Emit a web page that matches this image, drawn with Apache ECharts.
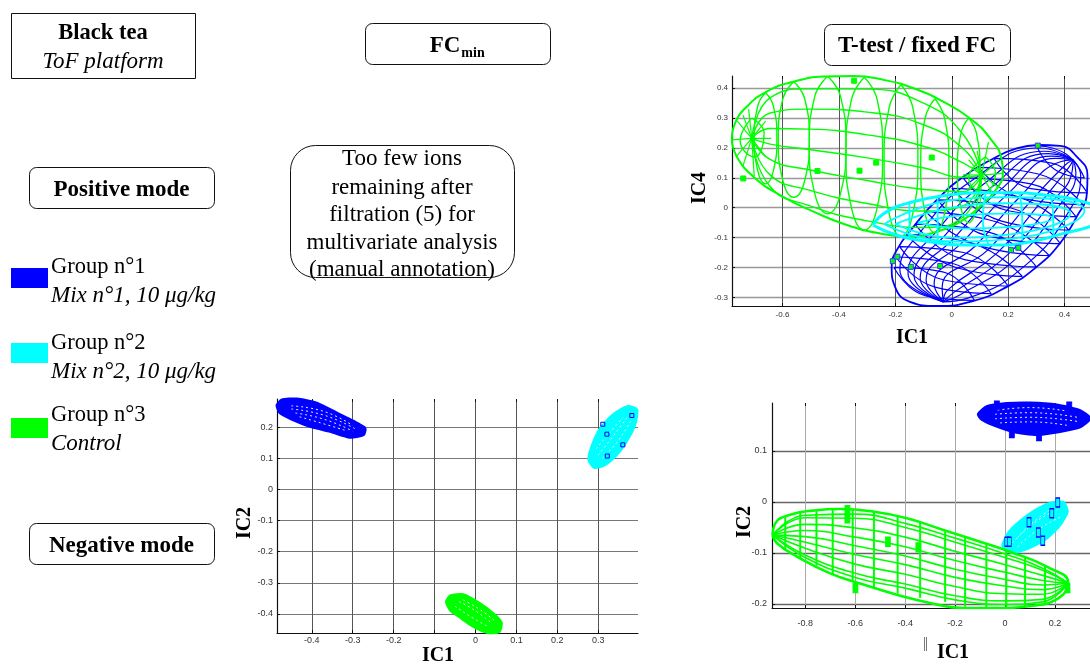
<!DOCTYPE html>
<html>
<head>
<meta charset="utf-8">
<style>
  html, body { margin: 0; padding: 0; background: #fff; }
  #chart { width: 1090px; height: 664px; }
</style>
<script src="https://cdn.jsdelivr.net/npm/echarts@6/dist/echarts.min.js"></script>
</head>
<body>
<div id="chart"></div>
<script>
const BLUE = "#0000ff";
const CYAN = "#00ffff";
const GREEN = "#00ff00";

// Tick values of the three panels
const ticksTopX = [-0.6, -0.4, -0.2, 0, 0.2, 0.4];
const ticksTopY = [-0.3, -0.2, -0.1, 0, 0.1, 0.2, 0.3, 0.4];
const ticksRightX = [-0.8, -0.6, -0.4, -0.2, 0, 0.2];
const ticksRightY = [-0.2, -0.1, 0, 0.1];
const ticksLeftX = [-0.4, -0.3, -0.2, -0.1, 0, 0.1, 0.2, 0.3];
const labelsLeftX = [-0.4, -0.3, -0.2, 0, 0.1, 0.2, 0.3]; // the -0.1 label is hidden by the IC1 title in the source
const ticksLeftY = [-0.4, -0.3, -0.2, -0.1, 0, 0.1, 0.2];

// Positive mode, T-test panel (IC1 / IC4)
const topGreenOutline = [[-0.78,0.227],[-0.768,0.283],[-0.727,0.338],[-0.656,0.389],[-0.561,0.422],[-0.455,0.439],[-0.349,0.441],[-0.242,0.428],[-0.136,0.4],[-0.03,0.355],[0.065,0.299],[0.136,0.232],[0.177,0.16],[0.181,0.115],[0.16,0.065],[0.1,0.003],[0.03,-0.047],[-0.053,-0.08],[-0.148,-0.097],[-0.254,-0.086],[-0.372,-0.058],[-0.49,-0.013],[-0.609,0.042],[-0.703,0.104],[-0.762,0.171],[-0.78,0.227]];
const topGreenMeridians = [
  [[-0.709,0.232],[-0.644,0.368],[-0.505,0.398],[-0.3,0.397],[-0.098,0.349],[0.04,0.246],[0.106,0.109]],
  [[-0.709,0.232],[-0.644,0.317],[-0.505,0.33],[-0.3,0.32],[-0.098,0.277],[0.04,0.198],[0.106,0.109]],
  [[-0.709,0.232],[-0.644,0.265],[-0.505,0.263],[-0.3,0.244],[-0.098,0.205],[0.04,0.15],[0.106,0.109]],
  [[-0.709,0.232],[-0.644,0.213],[-0.505,0.195],[-0.3,0.167],[-0.098,0.133],[0.04,0.102],[0.106,0.109]],
  [[-0.709,0.232],[-0.644,0.162],[-0.505,0.127],[-0.3,0.091],[-0.098,0.061],[0.04,0.054],[0.106,0.109]],
  [[-0.709,0.232],[-0.644,0.11],[-0.505,0.059],[-0.3,0.014],[-0.098,-0.011],[0.04,0.006],[0.106,0.109]],
  [[-0.709,0.232],[-0.644,0.071],[-0.505,0.007],[-0.3,-0.044],[-0.098,-0.066],[0.04,-0.031],[0.106,0.109]],
];
const topGreenRings = [
  [[-0.66,0.385],[-0.632,0.339],[-0.62,0.232],[-0.632,0.125],[-0.66,0.08],[-0.688,0.125],[-0.7,0.232],[-0.688,0.339],[-0.66,0.385]],
  [[-0.56,0.422],[-0.521,0.364],[-0.505,0.228],[-0.521,0.092],[-0.56,0.035],[-0.599,0.092],[-0.615,0.228],[-0.599,0.364],[-0.56,0.422]],
  [[-0.44,0.44],[-0.394,0.371],[-0.375,0.21],[-0.394,0.049],[-0.44,-0.02],[-0.486,0.049],[-0.505,0.21],[-0.486,0.371],[-0.44,0.44]],
  [[-0.31,0.437],[-0.264,0.36],[-0.245,0.181],[-0.264,0.002],[-0.31,-0.075],[-0.356,0.002],[-0.375,0.181],[-0.356,0.36],[-0.31,0.437]],
  [[-0.18,0.412],[-0.138,0.335],[-0.12,0.158],[-0.138,-0.019],[-0.18,-0.095],[-0.222,-0.019],[-0.24,0.158],[-0.222,0.335],[-0.18,0.412]],
  [[-0.06,0.365],[-0.025,0.298],[-0.01,0.141],[-0.025,-0.016],[-0.06,-0.083],[-0.095,-0.016],[-0.11,0.141],[-0.095,0.298],[-0.06,0.365]],
  [[0.06,0.3],[0.088,0.247],[0.1,0.125],[0.088,0.003],[0.06,-0.05],[0.032,0.003],[0.02,0.125],[0.032,0.247],[0.06,0.3]],
  [[-0.709,0.3],[-0.665,0.25],[-0.7,0.17],[-0.75,0.225],[-0.709,0.3]],
  [[0.12,0.17],[0.155,0.115],[0.11,0.05],[0.06,0.1],[0.12,0.17]],
];
const topGreenSpokes = [
  [[-0.709,0.232],[-0.78,0.227]], [[-0.709,0.232],[-0.76,0.29]], [[-0.709,0.232],[-0.72,0.33]],
  [[-0.709,0.232],[-0.765,0.17]], [[-0.709,0.232],[-0.7,0.105]], [[-0.709,0.232],[-0.64,0.232]],
  [[-0.709,0.232],[-0.66,0.29]], [[-0.709,0.232],[-0.66,0.17]], [[-0.709,0.232],[-0.74,0.31]], [[-0.709,0.232],[-0.74,0.14]],
  [[0.106,0.109],[0.18,0.115]], [[0.106,0.109],[0.17,0.16]], [[0.106,0.109],[0.13,0.22]],
  [[0.106,0.109],[0.17,0.065]], [[0.106,0.109],[0.1,0.005]], [[0.106,0.109],[0.04,0.11]],
  [[0.106,0.109],[0.06,0.16]], [[0.106,0.109],[0.055,0.06]], [[0.106,0.109],[0.15,0.04]], [[0.106,0.109],[0.09,0.19]],
];
const topBlueOutline = [[0.307,0.21],[0.384,0.207],[0.443,0.171],[0.481,0.109],[0.479,0.048],[0.443,-0.03],[0.384,-0.119],[0.301,-0.198],[0.195,-0.265],[0.077,-0.312],[-0.053,-0.329],[-0.148,-0.315],[-0.201,-0.265],[-0.213,-0.198],[-0.195,-0.142],[-0.136,-0.064],[-0.053,0.026],[0.041,0.104],[0.148,0.165],[0.23,0.199],[0.307,0.21]];
const topBlueMeridians = [
  [[-0.03,-0.315],[-0.184,-0.208],[-0.098,-0.066],[0.07,0.09],[0.313,0.2],[0.43,0.16]],
  [[-0.03,-0.315],[-0.155,-0.219],[-0.055,-0.08],[0.11,0.077],[0.33,0.189],[0.43,0.16]],
  [[-0.03,-0.315],[-0.134,-0.2275],[-0.0225,-0.091],[0.14,0.0675],[0.3425,0.181],[0.43,0.16]],
  [[-0.03,-0.315],[-0.112,-0.236],[0.01,-0.1],[0.17,0.058],[0.355,0.173],[0.43,0.16]],
  [[-0.03,-0.315],[-0.091,-0.244],[0.042,-0.112],[0.2,0.048],[0.368,0.165],[0.43,0.16]],
  [[-0.03,-0.315],[-0.0625,-0.255],[0.085,-0.1265],[0.24,0.035],[0.385,0.154],[0.43,0.16]],
  [[-0.03,-0.315],[-0.034,-0.266],[0.128,-0.141],[0.28,0.022],[0.402,0.143],[0.43,0.16]],
  [[-0.03,-0.315],[-0.013,-0.274],[0.16,-0.152],[0.31,0.012],[0.415,0.135],[0.43,0.16]],
  [[-0.03,-0.315],[0.009,-0.2825],[0.1925,-0.162],[0.34,0.0025],[0.4275,0.127],[0.43,0.16]],
  [[-0.03,-0.315],[0.03,-0.291],[0.225,-0.173],[0.37,-0.007],[0.44,0.119],[0.43,0.16]],
  [[-0.03,-0.315],[0.059,-0.302],[0.268,-0.187],[0.41,-0.02],[0.457,0.108],[0.43,0.16]],
];
const topBlueRings = [
  [[-0.205,-0.2],[-0.032,-0.215],[0.08,-0.31],[-0.092,-0.295],[-0.205,-0.2]],
  [[-0.198,-0.165],[0.001,-0.186],[0.14,-0.288],[-0.059,-0.266],[-0.198,-0.165]],
  [[-0.185,-0.13],[0.042,-0.15],[0.2,-0.262],[-0.028,-0.242],[-0.185,-0.13]],
  [[-0.16,-0.09],[0.075,-0.12],[0.25,-0.23],[0.015,-0.2],[-0.16,-0.09]],
  [[-0.13,-0.055],[0.125,-0.08],[0.3,-0.198],[0.045,-0.174],[-0.13,-0.055]],
  [[-0.09,-0.015],[0.157,-0.047],[0.345,-0.16],[0.097,-0.127],[-0.09,-0.015]],
  [[-0.05,0.026],[0.207,0],[0.385,-0.12],[0.127,-0.094],[-0.05,0.026]],
  [[0,0.065],[0.237,0.035],[0.415,-0.075],[0.177,-0.045],[0,0.065]],
  [[0.04,0.1],[0.28,0.08],[0.44,-0.03],[0.2,-0.01],[0.04,0.1]],
  [[0.095,0.135],[0.31,0.112],[0.465,0.01],[0.25,0.032],[0.095,0.135]],
  [[0.15,0.165],[0.35,0.15],[0.48,0.05],[0.28,0.064],[0.15,0.165]],
  [[0.3,0.208],[0.405,0.18],[0.47,0.1],[0.365,0.128],[0.3,0.208]],
];
const topCyanOutline = [[-0.28,-0.058],[-0.23,-0.013],[-0.136,0.02],[-0.018,0.042],[0.1,0.05],[0.219,0.05],[0.337,0.042],[0.443,0.026],[0.53,-0.005],[0.56,-0.03],[0.5,-0.06],[0.396,-0.086],[0.278,-0.114],[0.16,-0.125],[0.041,-0.125],[-0.077,-0.114],[-0.195,-0.092],[-0.28,-0.058]];
const topCyanInner = [
  [[-0.2,-0.055],[0,0],[0.2,0.015],[0.42,-0.02],[0.2,-0.09],[0,-0.1],[-0.2,-0.055]],
  [[-0.24,-0.055],[0,0.025],[0.2,0.035],[0.47,-0.01],[0.2,-0.105],[0,-0.113],[-0.24,-0.055]],
  [[-0.12,-0.05],[0.05,-0.025],[0.2,-0.02],[0.36,-0.035],[0.2,-0.065],[0.05,-0.07],[-0.12,-0.05]],
  [[0.12,0.05],[0.11,-0.04],[0.13,-0.122]],
  [[0.24,0.05],[0.25,-0.04],[0.25,-0.11]],
  [[0.35,0.04],[0.36,-0.03],[0.36,-0.09]],
  [[-0.05,0.036],[-0.05,-0.04],[-0.05,-0.117]],
  [[-0.15,0.015],[-0.15,-0.04],[-0.15,-0.1]],
];
const topGreenPoints = [[-0.739,0.098],[-0.476,0.123],[-0.327,0.124],[-0.268,0.151],[-0.071,0.168],[-0.346,0.425]];
const topBluePoints = [[-0.209,-0.179],[-0.193,-0.164],[-0.145,-0.198],[-0.041,-0.195],[0.21,-0.142],[0.236,-0.134],[0.305,0.208]];

// Negative mode, T-test panel (IC1 / IC2)
const rightGreenOutline = [[-0.93,-0.065],[-0.92,-0.042],[-0.86,-0.025],[-0.767,-0.017],[-0.66,-0.014],[-0.527,-0.019],[-0.393,-0.032],[-0.247,-0.055],[-0.1,-0.078],[0.033,-0.1],[0.167,-0.127],[0.253,-0.159],[0.213,-0.189],[0.1,-0.204],[-0.033,-0.208],[-0.167,-0.208],[-0.3,-0.198],[-0.433,-0.182],[-0.567,-0.162],[-0.7,-0.14],[-0.833,-0.107],[-0.913,-0.081],[-0.93,-0.065]];
const rightGreenRows = [
  [[-0.93,-0.065],[-0.8,-0.026],[-0.6,-0.024],[-0.4,-0.042],[-0.2,-0.071],[0,-0.102],[0.15,-0.13],[0.253,-0.159]],
  [[-0.93,-0.065],[-0.8,-0.031],[-0.6,-0.032],[-0.4,-0.05],[-0.2,-0.079],[0,-0.109],[0.15,-0.134],[0.253,-0.159]],
  [[-0.93,-0.065],[-0.8,-0.044],[-0.6,-0.051],[-0.4,-0.069],[-0.2,-0.097],[0,-0.123],[0.15,-0.144],[0.253,-0.159]],
  [[-0.93,-0.065],[-0.8,-0.056],[-0.6,-0.069],[-0.4,-0.088],[-0.2,-0.115],[0,-0.138],[0.15,-0.154],[0.253,-0.159]],
  [[-0.93,-0.065],[-0.8,-0.068],[-0.6,-0.086],[-0.4,-0.106],[-0.2,-0.132],[0,-0.152],[0.15,-0.163],[0.253,-0.159]],
  [[-0.93,-0.065],[-0.8,-0.079],[-0.6,-0.103],[-0.4,-0.123],[-0.2,-0.148],[0,-0.165],[0.15,-0.172],[0.253,-0.159]],
  [[-0.93,-0.065],[-0.8,-0.091],[-0.6,-0.122],[-0.4,-0.142],[-0.2,-0.166],[0,-0.18],[0.15,-0.181],[0.253,-0.159]],
  [[-0.93,-0.065],[-0.8,-0.104],[-0.6,-0.14],[-0.4,-0.161],[-0.2,-0.184],[0,-0.194],[0.15,-0.191],[0.253,-0.159]],
  [[-0.93,-0.065],[-0.8,-0.109],[-0.6,-0.148],[-0.4,-0.169],[-0.2,-0.192],[0,-0.201],[0.15,-0.196],[0.253,-0.159]],
];
const rightGreenColumns = [
  [[-0.88,-0.03],[-0.88,-0.095]], [[-0.82,-0.02],[-0.82,-0.11]], [[-0.755,-0.016],[-0.755,-0.125]],
  [[-0.69,-0.014],[-0.69,-0.142]], [[-0.61,-0.015],[-0.61,-0.155]], [[-0.525,-0.019],[-0.525,-0.168]],
  [[-0.43,-0.028],[-0.43,-0.18]], [[-0.34,-0.04],[-0.34,-0.188]], [[-0.24,-0.055],[-0.24,-0.196]],
  [[-0.16,-0.068],[-0.16,-0.205]], [[-0.075,-0.082],[-0.075,-0.208]], [[0.005,-0.096],[0.005,-0.208]],
  [[0.08,-0.11],[0.08,-0.204]], [[0.16,-0.125],[0.16,-0.198]],
];
const rightBlueOutline = [[-0.107,0.172],[-0.073,0.187],[0.007,0.193],[0.1,0.194],[0.207,0.19],[0.3,0.179],[0.347,0.164],[0.3,0.147],[0.22,0.138],[0.127,0.132],[0.033,0.138],[-0.047,0.151],[-0.093,0.162]];
const rightBlueGaps = [
  [[-0.03,0.18],[0.1,0.185],[0.25,0.178]],
  [[-0.04,0.172],[0.1,0.175],[0.3,0.165]],
  [[-0.04,0.163],[0.1,0.166],[0.3,0.157]],
  [[-0.02,0.155],[0.1,0.157],[0.25,0.15]],
];
const rightCyanOutline = [[-0.009,-0.084],[0.013,-0.061],[0.06,-0.038],[0.12,-0.017],[0.18,-0.003],[0.233,-0.001],[0.249,-0.019],[0.22,-0.045],[0.167,-0.071],[0.1,-0.089],[0.033,-0.099],[0,-0.094]];
const rightCyanGaps = [
  [[0.03,-0.08],[0.12,-0.04],[0.21,-0.015]],
  [[0.05,-0.088],[0.13,-0.055],[0.22,-0.03]],
  [[0.05,-0.07],[0.1,-0.045],[0.18,-0.015]],
];
const rightGreenPoints = [[-0.631,-0.016],[-0.631,-0.032],[-0.469,-0.078],[-0.347,-0.089],[-0.599,-0.169],[0.25,-0.169]];
const rightBluePoints = [[-0.033,0.19],[0.257,0.188],[0.027,0.134],[0.136,0.128]];
const rightCyanPoints = [[0.007,-0.078],[0.017,-0.078],[0.096,-0.04],[0.133,-0.06],[0.151,-0.076],[0.187,-0.022],[0.211,-0.001]];

// Negative mode, FCmin panel (IC1 / IC2)
const leftBlueOutline = [[-0.485,0.269],[-0.473,0.287],[-0.437,0.29],[-0.388,0.277],[-0.339,0.245],[-0.298,0.218],[-0.27,0.196],[-0.274,0.175],[-0.307,0.167],[-0.355,0.186],[-0.404,0.202],[-0.453,0.228],[-0.477,0.245]];
const leftBlueGaps = [
  [[-0.45,0.268],[-0.37,0.25],[-0.3,0.205]],
  [[-0.45,0.258],[-0.37,0.238],[-0.295,0.195]],
  [[-0.44,0.245],[-0.37,0.225],[-0.3,0.187]],
  [[-0.43,0.233],[-0.37,0.21],[-0.32,0.19]],
];
const leftCyanOutline = [[0.277,0.094],[0.283,0.132],[0.303,0.191],[0.336,0.239],[0.372,0.266],[0.394,0.255],[0.389,0.207],[0.368,0.153],[0.344,0.11],[0.315,0.078],[0.291,0.07]];
const leftCyanGaps = [
  [[0.3,0.11],[0.33,0.16],[0.37,0.23]],
  [[0.31,0.1],[0.345,0.15],[0.38,0.22]],
  [[0.295,0.13],[0.32,0.17],[0.36,0.23]],
];
const leftGreenOutline = [[-0.071,-0.361],[-0.061,-0.342],[-0.03,-0.338],[0.011,-0.367],[0.043,-0.399],[0.063,-0.428],[0.058,-0.456],[0.031,-0.46],[-0.006,-0.439],[-0.038,-0.41],[-0.061,-0.388]];
const leftGreenGaps = [
  [[-0.04,-0.36],[0,-0.39],[0.04,-0.43]],
  [[-0.05,-0.375],[-0.01,-0.41],[0.03,-0.44]],
  [[-0.03,-0.355],[0.01,-0.385],[0.045,-0.42]],
];
const leftCyanPoints = [[0.311,0.209],[0.321,0.177],[0.322,0.107],[0.36,0.143],[0.382,0.237]];

const legendRows = [
  ["Group n°1", "Mix n°1, 10 μg/kg", BLUE],
  ["Group n°2", "Mix n°2, 10 μg/kg", CYAN],
  ["Group n°3", "Control", GREEN],
];

const SERIF = "'Liberation Serif', 'Times New Roman', serif";
const SANS = "'Liberation Sans', Arial, sans-serif";

function makeAxis(panel, min, max, ticks, labels, label, grid) {
  return {
    type: "value",
    gridIndex: panel,
    min,
    max,
    axisLine: { onZero: false, lineStyle: { color: "#111", width: 1.2 } },
    axisTick: { inside: true, length: 3, lineStyle: { color: "#111" }, customValues: ticks },
    axisLabel: {
      customValues: labels,
      fontFamily: SANS,
      fontSize: label.size,
      color: "#333",
      margin: label.margin,
      formatter: (v) => String(v),
    },
    splitLine: { show: true, lineStyle: { color: grid.color, width: grid.width } },
  };
}

function topTicks(panel, min, max, ticks) {
  return {
    type: "value",
    gridIndex: panel,
    position: "top",
    min,
    max,
    axisLine: { show: false, onZero: false },
    axisTick: { inside: true, length: 3, lineStyle: { color: "#111" }, customValues: ticks },
    axisLabel: { show: false },
    splitLine: { show: false },
  };
}

function lines(panel, list, color, width, smooth) {
  return list.map((data) => ({
    type: "line",
    xAxisIndex: panel,
    yAxisIndex: panel,
    data,
    symbol: "none",
    smooth,
    silent: true,
    lineStyle: { color, width },
  }));
}

function gaps(panel, list) {
  return list.map((data) => ({
    type: "line",
    xAxisIndex: panel,
    yAxisIndex: panel,
    data,
    symbol: "none",
    smooth: true,
    silent: true,
    lineStyle: { color: "#fff", width: 1, type: [2, 3], opacity: 0.9 },
  }));
}

function filled(panel, points, color) {
  return {
    type: "custom",
    xAxisIndex: panel,
    yAxisIndex: panel,
    data: points,
    encode: { x: 0, y: 1 },
    silent: true,
    renderItem(params, api) {
      if (params.dataIndex !== 0) {
        return null;
      }
      const coords = points.map((p) => api.coord(p));
      return {
        type: "polygon",
        shape: { points: echarts.graphic.clipPointsByRect(coords, params.coordSys), smooth: 0.2 },
        style: { fill: color, stroke: color, lineWidth: 3, lineJoin: "round" },
      };
    },
  };
}

function marks(panel, data, fill, border, size) {
  return {
    type: "scatter",
    xAxisIndex: panel,
    yAxisIndex: panel,
    data,
    symbol: "rect",
    symbolSize: size,
    silent: true,
    itemStyle: { color: fill, borderColor: border, borderWidth: 1, opacity: 1 },
    z: 5,
  };
}

function text(content, x, y, size, opts = {}) {
  return {
    type: "text",
    x,
    y,
    rotation: opts.rotation || 0,
    silent: true,
    z: 20,
    style: {
      text: content,
      fontFamily: SERIF,
      fontSize: size,
      fontWeight: opts.bold ? "bold" : "normal",
      fontStyle: opts.italic ? "italic" : "normal",
      fill: "#000",
      align: opts.align || "center",
      verticalAlign: "middle",
    },
  };
}

function box(x, y, width, height, r) {
  return {
    type: "rect",
    silent: true,
    z: 19,
    shape: { x, y, width, height, r },
    style: { fill: "transparent", stroke: "#111", lineWidth: 1 },
  };
}

const graphicItems = [
  box(11.5, 13.5, 184, 65, 0),
  text("Black tea", 103, 33, 22.5, { bold: true }),
  text("ToF platform", 103, 62, 23, { italic: true }),
  box(29.5, 167.5, 185, 41, 7),
  text("Positive mode", 121.5, 190, 23, { bold: true }),
  box(29.5, 523.5, 185, 41, 7),
  text("Negative mode", 121.5, 546, 23, { bold: true }),
  box(365.5, 23.5, 185, 41, 7),
  text("FC", 445, 46, 23, { bold: true }),
  text("min", 473, 53, 14, { bold: true }),
  box(824.5, 24.5, 186, 41, 7),
  text("T-test / fixed FC", 917, 46, 23, { bold: true }),
  box(290.5, 145.5, 224, 132, 25),
  text("Too few ions", 402, 159, 23),
  text("remaining after", 402, 188, 23),
  text("filtration (5) for", 402, 215, 23),
  text("multivariate analysis", 402, 243, 23),
  text("(manual annotation)", 402, 270, 23),
  text("IC4", 700, 188, 20, { bold: true, rotation: Math.PI / 2 }),
  text("IC1", 912, 338, 20, { bold: true }),
  text("IC2", 745, 522, 20, { bold: true, rotation: Math.PI / 2 }),
  text("IC1", 953, 653, 20, { bold: true }),
  text("IC2", 245, 523, 20, { bold: true, rotation: Math.PI / 2 }),
  text("IC1", 438, 656, 20, { bold: true }),
  { type: "line", silent: true, shape: { x1: 924.5, y1: 637, x2: 924.5, y2: 651 }, style: { stroke: "#777", lineWidth: 1 } },
  { type: "line", silent: true, shape: { x1: 926.5, y1: 637, x2: 926.5, y2: 651 }, style: { stroke: "#777", lineWidth: 1 } },
];

const legendY = [[268, 267, 296], [343, 343, 372], [418, 415, 444]];
legendRows.forEach(([title, sub, color], i) => {
  const [swatch, titleY, subY] = legendY[i];
  graphicItems.push({
    type: "rect",
    silent: true,
    shape: { x: 11, y: swatch, width: 37, height: 20 },
    style: { fill: color },
  });
  graphicItems.push(text(title, 51, titleY, 22.5, { align: "left" }));
  graphicItems.push(text(sub, 51, subY, 23, { align: "left", italic: true }));
});

const option = {
  animation: false,
  backgroundColor: "#fff",
  grid: [
    { left: 732, top: 76, width: 358, height: 230 },
    { left: 772, top: 403, width: 318, height: 205 },
    { left: 277, top: 399, width: 361, height: 234 },
  ],
  xAxis: [
    makeAxis(0, -0.779, 0.49, ticksTopX, ticksTopX, { size: 8, margin: 5 }, { color: "#555", width: 1 }),
    makeAxis(1, -0.933, 0.34, ticksRightX, ticksRightX, { size: 9, margin: 11 }, { color: "#aaa", width: 1 }),
    makeAxis(2, -0.485, 0.397, ticksLeftX, labelsLeftX, { size: 9, margin: 3 }, { color: "#555", width: 1 }),
    topTicks(0, -0.779, 0.49, ticksTopX),
    topTicks(1, -0.933, 0.34, ticksRightX),
    topTicks(2, -0.485, 0.397, ticksLeftX),
  ],
  yAxis: [
    makeAxis(0, -0.329, 0.441, ticksTopY, ticksTopY, { size: 8, margin: 4 }, { color: "#999", width: 1.4 }),
    makeAxis(1, -0.208, 0.194, ticksRightY, ticksRightY, { size: 9, margin: 5 }, { color: "#666", width: 1.4 }),
    makeAxis(2, -0.461, 0.29, ticksLeftY, ticksLeftY, { size: 9, margin: 4 }, { color: "#777", width: 1 }),
  ],
  series: [
    ...lines(0, [topBlueOutline], BLUE, 1.8, true),
    ...lines(0, topBlueMeridians, BLUE, 1.2, true),
    ...lines(0, topBlueRings, BLUE, 1.2, true),
    ...lines(0, [topGreenOutline], GREEN, 2, true),
    ...lines(0, topGreenMeridians, GREEN, 1.4, true),
    ...lines(0, topGreenRings, GREEN, 1.4, true),
    ...lines(0, topGreenSpokes, GREEN, 1.2, false),
    ...lines(0, [topCyanOutline], CYAN, 3, true),
    ...lines(0, topCyanInner, CYAN, 1.8, true),
    marks(0, topGreenPoints, GREEN, GREEN, 5),
    marks(0, topBluePoints, GREEN, "#3a3aff", 5),

    filled(1, rightBlueOutline, BLUE),
    ...gaps(1, rightBlueGaps),
    ...lines(1, [rightGreenOutline], GREEN, 2.6, true),
    ...lines(1, rightGreenRows, GREEN, 1.6, true),
    ...lines(1, rightGreenColumns, GREEN, 2, false),
    filled(1, rightCyanOutline, CYAN),
    ...gaps(1, rightCyanGaps),
    marks(1, rightGreenPoints, GREEN, GREEN, [5, 9]),
    marks(1, rightBluePoints, BLUE, BLUE, [5, 8]),
    marks(1, rightCyanPoints, CYAN, BLUE, [4, 9]),

    filled(2, leftBlueOutline, BLUE),
    ...gaps(2, leftBlueGaps),
    filled(2, leftCyanOutline, CYAN),
    ...gaps(2, leftCyanGaps),
    filled(2, leftGreenOutline, GREEN),
    ...gaps(2, leftGreenGaps),
    marks(2, leftCyanPoints, "transparent", BLUE, 4),
  ],
  graphic: graphicItems,
};

const chart = echarts.init(document.querySelector("#chart"));
chart.setOption(option);
</script>
</body>
</html>
